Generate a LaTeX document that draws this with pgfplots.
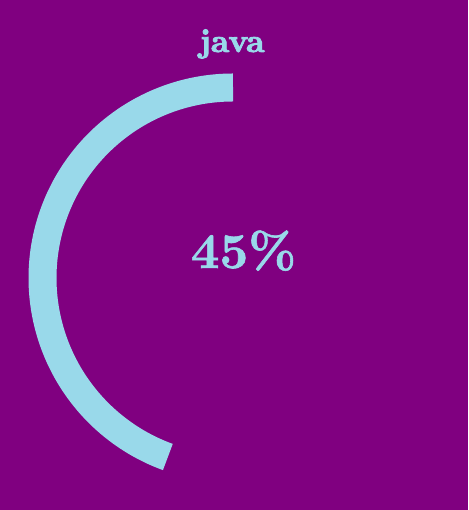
\documentclass[border=0pt]{standalone}
\usepackage{fontspec}
\newfontfamily\fatfont{lmroman10-bold.otf}[FakeBold=2.5]
\newfontfamily\semifatfont{lmroman10-bold.otf}[FakeBold=1.2]
\usepackage{pgfplots}
\pgfplotsset{compat=1.18}
\definecolor{bgpurple}{RGB}{128,0,128}
\definecolor{ringblue}{RGB}{153,217,234}
\begin{document}
\begin{tikzpicture}
\def\val{45}
\fill[bgpurple] (0,0) rectangle (468pt,510pt);
\begin{axis}[
  at={(0,0)}, anchor=south west,
  scale only axis, width=468pt, height=510pt,
  xmin=0, xmax=468, ymin=0, ymax=510,
  axis lines=none, ticks=none,
  clip=false,
]
% gauge arc: starts at 12 o'clock, runs counter-clockwise
\addplot[ringblue, line width=28pt, line cap=butt, domain=90:250, samples=200, variable=\t]
  ({233+190.5*cos(\t)},{232+190.5*sin(\t)});
\node[anchor=base, text=ringblue, font=\fontsize{33}{40}\selectfont\fatfont] at (axis cs:232,458) {java};
\node[anchor=base, text=ringblue, font=\fontsize{50}{60}\selectfont\semifatfont] at (axis cs:243.5,242) {\val\%};
\end{axis}
\end{tikzpicture}
\end{document}
